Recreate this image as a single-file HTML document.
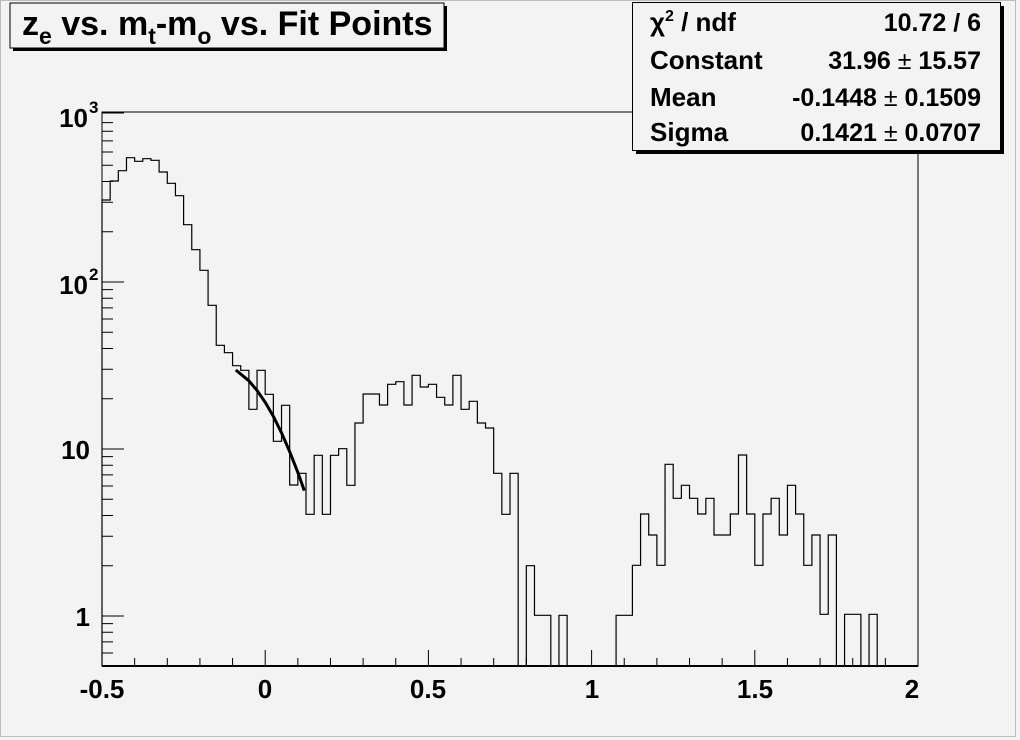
<!DOCTYPE html>
<html><head><meta charset="utf-8"><style>
body{margin:0;background:#fff}
svg{display:block;font-family:"Liberation Sans",Arial,sans-serif;font-weight:bold}
</style></head><body>
<svg width="1020" height="740" viewBox="0 0 1020 740">
<rect x="0" y="0" width="1020" height="740" fill="#f3f3f3"/>
<rect x="0.5" y="0.5" width="1015" height="736" fill="none" stroke="#bdbdbd"/>
<rect x="102" y="112" width="816" height="554" fill="#f3f3f3" stroke="#000" stroke-width="1"/>
<path fill="none" stroke="#000" stroke-width="1.2" d="M102,666 V200 H110.16 V181 H118.32 V170.7 H126.48 V157.7 H134.64 V161.3 H142.8 V158.7 H150.96 V160.3 H159.12 V172 H167.28 V183.3 H175.44 V195.7 H183.6 V224.7 H191.76 V249.7 H199.92 V270.3 H208.08 V305.3 H216.24 V345.3 H224.4 V352.7 H232.56 V365.7 H240.72 V370.3 H248.88 V409.3 H257.04 V370.3 H265.2 V394.3 H273.36 V441.3 H281.52 V405.3 H289.68 V485 H297.84 V473.3 H306 V514.3 H314.16 V455.3 H322.32 V514.3 H330.48 V455.3 H338.64 V448.7 H346.8 V485.3 H354.96 V423 H363.12 V394 H379.44 V405 H387.6 V384.3 H395.76 V381.7 H403.92 V405 H412.08 V375.3 H420.24 V387 H428.4 V384.3 H436.56 V397.3 H444.72 V405 H452.88 V375.3 H461.04 V409.3 H469.2 V401.3 H477.36 V423 H485.52 V428 H493.68 V473.3 H501.84 V514.3 H510 V473.3 H518.16 V666 H526.32 V565.7 H534.48 V615.3 H550.8 V666 H558.96 V615.3 H567.12 V666 H616.08 V615.3 H632.4 V565.3 H640.56 V514 H648.72 V535 H656.88 V565.3 H665.04 V464.3 H673.2 V498.3 H681.36 V485.3 H689.52 V498.3 H697.68 V514 H705.84 V498.3 H714 V535 H730.32 V514 H738.48 V455 H746.64 V514 H754.8 V565.3 H762.96 V514 H771.12 V498.3 H779.28 V535 H787.44 V485.3 H795.6 V514 H803.76 V565.3 H811.92 V535 H820.08 V614.3 H828.24 V535 H836.4 V666 H844.56 V614.3 H860.88 V666 H869.04 V614.3 H877.2 V666"/>
<polyline fill="none" stroke="#000" stroke-width="3" points="235.8,370 248.9,380.8 257,390.4 265.2,402.3 273.4,416.4 281.5,432.8 289.6,451.4 297.8,472.3 304.3,490.6"/>
<g stroke="#000" stroke-width="1">
<line x1="102" y1="666" x2="918" y2="666" stroke-width="2"/>
<path d="M102,666v-16 M134.64,666v-8 M167.28,666v-8 M199.92,666v-8 M232.56,666v-8 M265.2,666v-16 M297.84,666v-8 M330.48,666v-8 M363.12,666v-8 M395.76,666v-8 M428.4,666v-16 M461.04,666v-8 M493.68,666v-8 M526.32,666v-8 M558.96,666v-8 M591.6,666v-16 M624.24,666v-8 M656.88,666v-8 M689.52,666v-8 M722.16,666v-8 M754.8,666v-16 M787.44,666v-8 M820.08,666v-8 M852.72,666v-8 M885.36,666v-8 M918,666v-16"/>
<path d="M102,653h11 M102,641.9h11 M102,632.2h11 M102,623.6h11 M102,616h22
M102,565.7h11 M102,536.3h11 M102,515.5h11 M102,499.3h11 M102,486h11 M102,474.9h11 M102,465.2h11 M102,456.6h11 M102,449h22
M102,398.7h11 M102,369.3h11 M102,348.5h11 M102,332.3h11 M102,319h11 M102,307.9h11 M102,298.2h11 M102,289.6h11 M102,282h22
M102,231.7h11 M102,202.3h11 M102,181.5h11 M102,165.3h11 M102,152h11 M102,140.9h11 M102,131.2h11 M102,122.6h11 M102,113h22"/>
</g>
<g font-size="26" text-anchor="middle">
<text x="102" y="698">-0.5</text>
<text x="265" y="698">0</text>
<text x="428" y="698">0.5</text>
<text x="592" y="698">1</text>
<text x="755" y="698">1.5</text>
<text x="912" y="698">2</text>
</g>
<g font-size="26" text-anchor="end">
<text x="90" y="626">1</text>
<text x="90" y="459">10</text>
<text x="88" y="294">10</text><text x="89" y="280" font-size="17" text-anchor="start">2</text>
<text x="88" y="127">10</text><text x="89" y="113" font-size="17" text-anchor="start">3</text>
</g>
<rect x="13" y="6" width="434" height="45" fill="#000"/>
<rect x="10" y="3" width="434" height="45" fill="#f3f3f3" stroke="#000"/>
<text x="22" y="35" font-size="34">z<tspan font-size="23" dy="9">e</tspan><tspan dy="-9"> vs. m</tspan><tspan font-size="23" dy="9">t</tspan><tspan dy="-9">-m</tspan><tspan font-size="23" dy="9">o</tspan><tspan dy="-9"> vs. Fit Points</tspan></text>
<rect x="636" y="6" width="368" height="148" fill="#000"/>
<rect x="632.5" y="2.5" width="368" height="148" fill="#f3f3f3" stroke="#000"/>
<g font-size="26">
<text x="650" y="31">χ<tspan font-size="16" dy="-10">2</tspan><tspan dy="10"> / ndf</tspan></text>
<text x="650" y="69">Constant</text>
<text x="650" y="106">Mean</text>
<text x="650" y="141">Sigma</text>
</g>
<g font-size="25" text-anchor="end">
<text x="981" y="31">10.72 / 6</text>
<text x="981" y="69">31.96 <tspan font-weight="normal">±</tspan> 15.57</text>
<text x="981" y="106">-0.1448 <tspan font-weight="normal">±</tspan> 0.1509</text>
<text x="981" y="141">0.1421 <tspan font-weight="normal">±</tspan> 0.0707</text>
</g>
</svg>
</body></html>
